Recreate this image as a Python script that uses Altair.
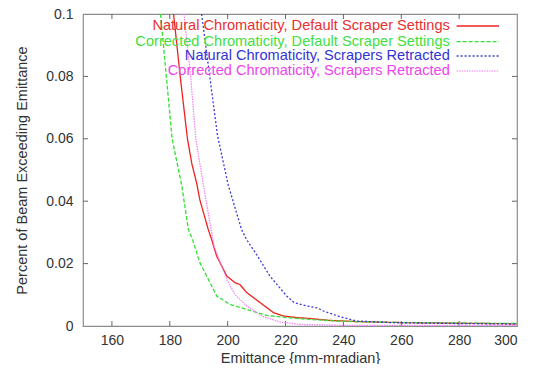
import altair as alt
import pandas as pd

# ---- data ----
series_names = [
    "Natural Chromaticity, Default Scraper Settings",
    "Corrected Chromaticity, Default Scraper Settings",
    "Natural Chromaticity, Scrapers Retracted",
    "Corrected Chromaticity, Scrapers Retracted",
]

red_x = [181.3, 183.6, 186.1, 187.6, 189.3, 190.4, 193.3, 194.5, 196.2, 199.7, 202.5, 204.2,
         206.6, 211.2, 215.8, 219.3, 223.9, 228.5, 235, 245, 260, 280, 300]
red_y = [0.1, 0.08, 0.06, 0.0521, 0.0457, 0.0404, 0.0309, 0.0276, 0.0224, 0.016, 0.0139, 0.0133,
         0.0107, 0.0075, 0.0043, 0.0032, 0.0027, 0.0024, 0.0018, 0.0014, 0.0011, 0.0009, 0.0007]

green_x = [176.8, 178.8, 180.8, 184.1, 186.4, 187.9, 190.4, 194.5, 196.2, 200.8, 206.6, 213.5,
           220.4, 228.5, 240, 260, 300]
green_y = [0.1, 0.08, 0.06, 0.0452, 0.031, 0.0276, 0.0203, 0.0128, 0.0096, 0.0069, 0.0053, 0.0034,
           0.0027, 0.0021, 0.0015, 0.0011, 0.0008]

blue_x = [191.0, 193.8, 196.5, 200.2, 204.8, 206.6, 210.0, 214.6, 220.4, 223, 227, 231, 233.1,
          238.8, 244.6, 256, 279, 300]
blue_y = [0.1, 0.08, 0.061, 0.0452, 0.0309, 0.0276, 0.0229, 0.016, 0.0096, 0.0075, 0.0065, 0.0058,
          0.0048, 0.003, 0.0016, 0.0011, 0.0008, 0.0006]

pink_x = [184.9, 187.2, 189.0, 191.6, 195.3, 199.7, 202.5, 206.6, 212.3, 218.1, 225, 240, 300]
pink_y = [0.1, 0.08, 0.06, 0.0452, 0.0256, 0.0149, 0.0101, 0.0064, 0.003, 0.0013, 0.0005, 0.0002,
          0.0002]

x_ticks = [160, 180, 200, 220, 240, 260, 280, 300]
y_ticks = [0, 0.02, 0.04, 0.06, 0.08, 0.1]

# ---- styles ----
line_colors = ["#ee2222", "#33e033", "#3a3ad8", "#f27ff2"]
text_colors = ["#e83030", "#3ee03e", "#3333d6", "#ee44ee"]
dashes = [[1, 0], [4, 2], [2, 2], [1.5, 1]]
widths = [1.3, 1.3, 1.3, 1.2]

W, H = 434, 312
FONT = "Liberation Sans"

xs = alt.Scale(domain=[150, 300], nice=False, zero=False)
ys = alt.Scale(domain=[0, 0.1], nice=False)
x_axis = alt.Axis(values=x_ticks, ticks=False, tickSize=0, domain=False, grid=False,
                  labelPadding=7, labelFontSize=14, labelColor="#333333", labelFont=FONT,
                  title="Emittance {mm-mradian}", titleFont=FONT, titleFontSize=14.5,
                  titleFontWeight="normal", titleColor="#333333", titleY=36,
                  titleBaseline="alphabetic")
y_axis = alt.Axis(values=y_ticks, format=".2~f", ticks=False, tickSize=0, domain=False, grid=False,
                  labelPadding=10, labelFontSize=14, labelColor="#333333", labelFont=FONT,
                  title="Percent of Beam Exceeding Emittance", titleFont=FONT, titleFontSize=14.5,
                  titleFontWeight="normal", titleColor="#333333", titleX=-61, titleY=H / 2,
                  titleAngle=-90, titleAlign="center", titleBaseline="middle")

X = alt.X("E:Q", scale=xs, axis=x_axis)
Y = alt.Y("v:Q", scale=ys, axis=y_axis)

series_data = [(red_x, red_y), (green_x, green_y), (blue_x, blue_y), (pink_x, pink_y)]
layers = []

# inward ticks (gnuplot style, mirrored)
xt = pd.DataFrame({"E": [t for t in x_ticks if t < 300]})
yt = pd.DataFrame({"v": [t for t in y_ticks if 0 < t < 0.1]})
tick_color = "#666666"
layers.append(alt.Chart(xt).mark_rule(color=tick_color, strokeWidth=1).encode(
    x=X, y=alt.value(H), y2=alt.value(H - 5)))
layers.append(alt.Chart(xt).mark_rule(color=tick_color, strokeWidth=1).encode(
    x=X, y=alt.value(0), y2=alt.value(5)))
layers.append(alt.Chart(yt).mark_rule(color=tick_color, strokeWidth=1).encode(
    y=Y, x=alt.value(0), x2=alt.value(5)))
layers.append(alt.Chart(yt).mark_rule(color=tick_color, strokeWidth=1).encode(
    y=Y, x=alt.value(W), x2=alt.value(W - 5)))

# curves
for i, (xv, yv) in enumerate(series_data):
    df = pd.DataFrame({"E": xv, "v": yv, "series": series_names[i]})
    layers.append(
        alt.Chart(df).mark_line(color=line_colors[i], strokeDash=dashes[i],
                                strokeWidth=widths[i], clip=True).encode(x=X, y=Y)
    )

# legend (gnuplot key: text right-aligned, sample to the right)
row_y = [12, 27.6, 42, 57]
for i, name in enumerate(series_names):
    ldf = pd.DataFrame({"label": [name]})
    layers.append(
        alt.Chart(ldf).mark_text(align="right", baseline="middle", font=FONT, fontSize=14.6,
                                 color=text_colors[i]).encode(
            text="label:N", x=alt.value(366.8), y=alt.value(row_y[i]))
    )
    layers.append(
        alt.Chart(ldf).mark_rule(color=line_colors[i], strokeDash=dashes[i],
                                 strokeWidth=widths[i]).encode(
            x=alt.value(373.6), x2=alt.value(416), y=alt.value(row_y[i]))
    )

chart = alt.layer(*layers).properties(
    width=W, height=H,
    autosize=alt.AutoSizeParams(type="none"),
    padding={"left": 75, "top": 6, "right": 8, "bottom": 38},
    background="white",
).configure_view(stroke="#8c8c8c", strokeWidth=1.2)

chart.save("out.html", embed_options={"renderer": "svg", "actions": False})
